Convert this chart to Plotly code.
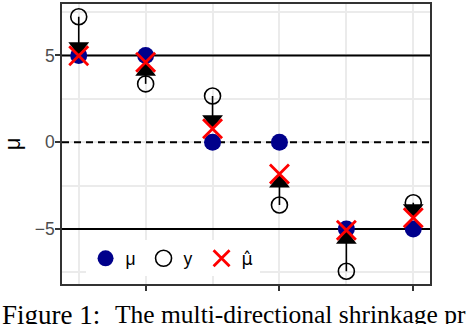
import plotly.graph_objects as go

# ---- data ----
cats = [1, 2, 3, 4, 5, 6]
mu = [5, 5, 0, 0, -5, -5]
y_obs = [7.23, 3.36, 2.66, -3.62, -7.44, -3.49]
mu_hat = [4.98, 4.6, 0.77, -1.83, -5.07, -4.35]
ref_lines = [5, 0, -5]
ref_dash = ["solid", "7px,5px", "solid"]
y_tickvals = [-5, 0, 5]
x_tickvals = [2, 4, 6]
legend_names = ["μ", "y", '<span style="font-family:DejaVu Sans">μ̂</span>']
caption_label = "Figure 1:"
caption_text = "The multi-directional shrinkage property"

W, H = 466, 324
ML, MR, MT, MB = 62, 36, 2, 40
PW = W - ML - MR
PH = H - MT - MB

# ggplot-like 5% expansion
allv = mu + y_obs + mu_hat
lo, hi = min(allv), max(allv)
pad = 0.05 * (hi - lo)
xpad = 0.05 * (max(cats) - min(cats))
xr = [min(cats) - xpad, max(cats) + xpad]

fig = go.Figure()

# reference lines (as traces so they sit above grid, below marks)
for v, d in zip(ref_lines, ref_dash):
    fig.add_trace(go.Scatter(x=xr, y=[v, v], mode="lines", showlegend=False, hoverinfo="skip",
                             line=dict(color="black", width=2, dash=d)))

fig.add_trace(go.Scatter(
    x=cats, y=mu, mode="markers", name=legend_names[0],
    marker=dict(symbol="circle", size=17, color="#00008B", line=dict(width=0)),
))
fig.add_trace(go.Scatter(
    x=cats, y=y_obs, mode="markers", name=legend_names[1],
    marker=dict(symbol="circle-open", size=16, color="black", line=dict(width=1.6, color="black")),
))

# arrow shafts
sx, sy = [], []
for c, a, b in zip(cats, y_obs, mu_hat):
    sx += [c, c, None]
    sy += [a, b, None]
fig.add_trace(go.Scatter(x=sx, y=sy, mode="lines", showlegend=False,
                         line=dict(color="black", width=1.6), hoverinfo="skip"))

# arrow heads: tip exactly on mu_hat
head_size = 18
angles = [0 if b > a else 180 for a, b in zip(y_obs, mu_hat)]
fig.add_trace(go.Scatter(
    x=cats, y=mu_hat, mode="markers", showlegend=False, hoverinfo="skip",
    marker=dict(symbol="triangle-up", size=head_size, color="black",
                angle=angles, standoff=head_size / 2, line=dict(width=0)),
))

fig.add_trace(go.Scatter(
    x=cats, y=mu_hat, mode="markers", name=legend_names[2],
    marker=dict(symbol="x-thin", size=19, color="red", line=dict(width=2.8, color="red")),
))

fig.add_annotation(
    text=caption_label, xref="paper", yref="paper",
    x=-ML / PW, y=-14 / PH, xanchor="left", yanchor="top", showarrow=False,
    font=dict(family="Liberation Serif", size=27, color="black"),
)
fig.add_annotation(
    text=caption_text, xref="paper", yref="paper",
    x=(113 - ML) / PW, y=-14.5 / PH, xanchor="left", yanchor="top", showarrow=False,
    font=dict(family="Liberation Serif", size=25.5, color="black"),
)

grid = "#EBEBEB"
fig.update_xaxes(
    range=xr, tickvals=x_tickvals,
    showticklabels=False, ticks="outside", ticklen=5, tickwidth=1.5, tickcolor="#333333",
    showgrid=True, gridcolor=grid, gridwidth=2,
    minor=dict(dtick=1, tick0=0, showgrid=True, gridcolor=grid, gridwidth=1.5),
    showline=True, mirror=True, linecolor="#333333", linewidth=1.5, zeroline=False,
)
fig.update_yaxes(
    range=[lo - pad, hi + pad], tickvals=y_tickvals,
    ticks="outside", ticklen=5, tickwidth=1.5, tickcolor="#333333",
    tickfont=dict(family="Liberation Sans", size=17.5, color="#4D4D4D"),
    ticklabelstandoff=-3,
    showgrid=True, gridcolor=grid, gridwidth=2,
    minor=dict(dtick=2.5, tick0=0, showgrid=True, gridcolor=grid, gridwidth=1.5),
    showline=True, mirror=True, linecolor="#333333", linewidth=1.5, zeroline=False,
    title=dict(text="μ", font=dict(family="Liberation Sans", size=22, color="black"), standoff=14),
)

fig.update_layout(
    width=W, height=H, margin=dict(l=ML, r=MR, t=MT, b=MB),
    paper_bgcolor="white", plot_bgcolor="white",
    font=dict(family="Liberation Sans", color="black"),
    legend=dict(orientation="h", x=0.064, y=0.027, xanchor="left", yanchor="bottom",
                bgcolor="white", font=dict(size=17.5, family="Liberation Sans", color="black"),
                entrywidth=13, entrywidthmode="pixels", itemwidth=30),
    showlegend=True,
)

fig.write_html("out.html", config={"displayModeBar": False},
               post_script="document.body.style.margin='0';document.body.style.padding='0';")
